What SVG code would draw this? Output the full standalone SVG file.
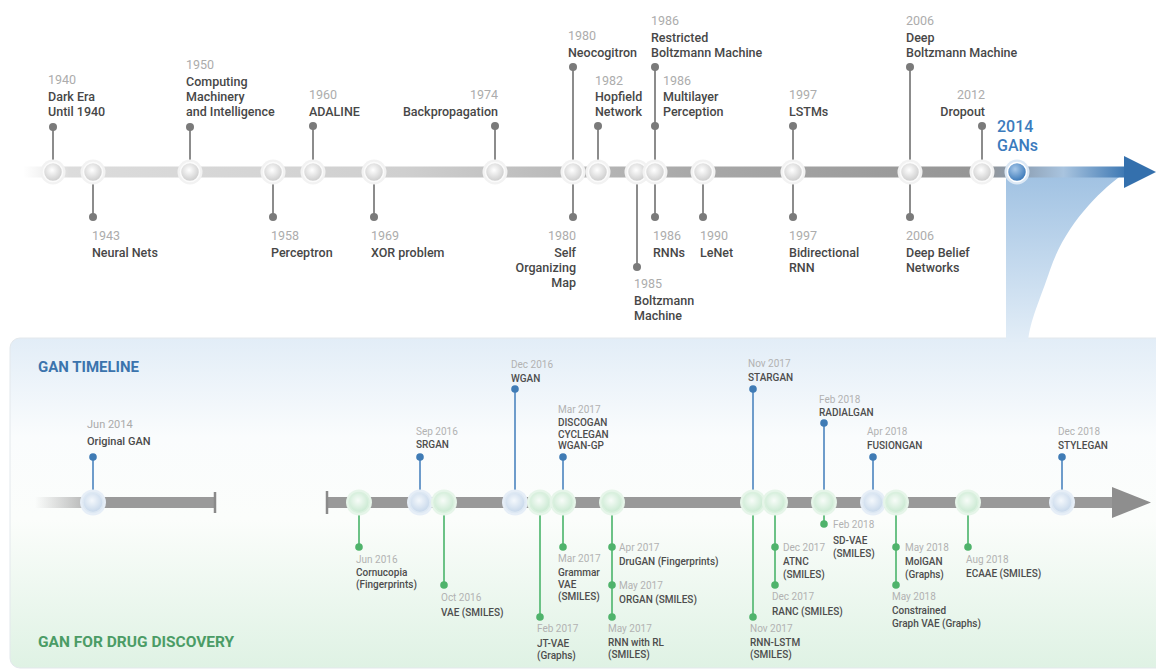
<svg xmlns="http://www.w3.org/2000/svg" width="1156" height="670" viewBox="0 0 1156 670">
<defs>
<style>
text{font-family:Roboto,"Liberation Sans",sans-serif}
.yr{font-size:12.5px;fill:#acacac}
.nm{font-size:12.5px;fill:#474747;font-weight:500}
.by{font-size:10px;fill:#b2b2b2}
.bn{font-size:10px;fill:#4d4d4d;font-weight:500}
.st{stroke:#8c8c8c;stroke-width:2}
.sb{stroke:#6e9ccb;stroke-width:2}
.sg{stroke:#6cc286;stroke-width:2}
.dt{fill:#7a7a7a}
.db{fill:#3f7bb5}
.dg{fill:#4fb36b}
.halo{fill:#f2f2f2}
.ng{fill:url(#gGray);stroke:#fbfbfb;stroke-width:1.5}
.hg{fill:#e6f5e9}
.ngr{fill:url(#gGreen);stroke:#d9f0de;stroke-width:1.5}
.hb{fill:#e6eef7}
.nbl{fill:url(#gBlue);stroke:#dde8f3;stroke-width:1.5}
.gan{font-size:16px;font-weight:500;fill:#3b7bbd}
</style>
<radialGradient id="gGray" cx="0.45" cy="0.4" r="0.6">
<stop offset="0" stop-color="#ffffff"/><stop offset="1" stop-color="#cbcbcb"/>
</radialGradient>
<radialGradient id="gGreen" cx="0.45" cy="0.4" r="0.6">
<stop offset="0" stop-color="#f7fcf8"/><stop offset="1" stop-color="#c9e9d1"/>
</radialGradient>
<radialGradient id="gBlue" cx="0.45" cy="0.4" r="0.6">
<stop offset="0" stop-color="#f4f8fc"/><stop offset="1" stop-color="#c6d7ea"/>
</radialGradient>
<radialGradient id="gGan" cx="0.4" cy="0.35" r="0.65">
<stop offset="0" stop-color="#a8c9ea"/><stop offset="1" stop-color="#3a78b8"/>
</radialGradient>
<linearGradient id="gTopBar" x1="0" y1="0" x2="1156" y2="0" gradientUnits="userSpaceOnUse">
<stop offset="0.02" stop-color="#e2e2e2" stop-opacity="0"/>
<stop offset="0.06" stop-color="#dcdcdc"/>
<stop offset="0.35" stop-color="#cfcfcf"/>
<stop offset="0.6" stop-color="#a8a8a8"/>
<stop offset="0.85" stop-color="#959595"/>
<stop offset="0.88" stop-color="#8a9cb0"/>
<stop offset="0.92" stop-color="#a9c4df"/>
<stop offset="0.975" stop-color="#3a76b2"/>
</linearGradient>
<linearGradient id="gFunnel" x1="0" y1="172" x2="0" y2="340" gradientUnits="userSpaceOnUse">
<stop offset="0" stop-color="#9fc1e2"/>
<stop offset="1" stop-color="#e2edf7"/>
</linearGradient>
<linearGradient id="gPanel" x1="0" y1="0" x2="0" y2="1">
<stop offset="0" stop-color="#e2edf7"/>
<stop offset="0.3" stop-color="#fafcfd"/>
<stop offset="0.55" stop-color="#fbfdfb"/>
<stop offset="1" stop-color="#dff2e4"/>
</linearGradient>
<linearGradient id="gLeftBar" x1="35" y1="0" x2="215" y2="0" gradientUnits="userSpaceOnUse">
<stop offset="0" stop-color="#9a9a9a" stop-opacity="0"/>
<stop offset="0.4" stop-color="#9a9a9a"/>
<stop offset="1" stop-color="#9a9a9a"/>
</linearGradient>
</defs>

<rect width="1156" height="670" fill="#ffffff"/>

<!-- bottom panel and funnel -->
<g id="panel">
<rect x="10" y="338" width="1160" height="330" rx="10" fill="url(#gPanel)" stroke="#e3e8ec" stroke-width="1"/>
<path d="M1006,172 L1126,172 C1100,190 1065,225 1050,270 C1040,300 1030,320 1028,342 L1006,342 Z" fill="url(#gFunnel)"/>
<text x="38" y="372" font-size="15" font-weight="700" fill="#3b74ad">GAN TIMELINE</text>
<text x="38" y="647" font-size="15.5" font-weight="700" fill="#4b9c66">GAN FOR DRUG DISCOVERY</text>
</g>

<!-- top bar -->
<g id="top-bar">
<rect x="20" y="166.5" width="1106" height="11" fill="url(#gTopBar)"/>
<polygon points="1124,156 1156,172 1124,188" fill="#3470ad"/>
</g>

<!-- bottom bars -->
<g id="bottom-bars">
<rect x="35" y="497" width="180" height="11" fill="url(#gLeftBar)"/>
<line x1="215" y1="492" x2="215" y2="513" stroke="#8a8a8a" stroke-width="2.5"/>
<rect x="327" y="497" width="790" height="11" fill="#999999"/>
<line x1="327" y1="491" x2="327" y2="514" stroke="#8a8a8a" stroke-width="2.5"/>
<polygon points="1112,487 1151,502.5 1112,518" fill="#8e8e8e"/>
</g>

<!-- connectors -->
<g id="connectors">
<line class="st" x1="53" y1="127" x2="53" y2="172"/>
<line class="st" x1="93" y1="172" x2="93" y2="217"/>
<line class="st" x1="190" y1="127" x2="190" y2="172"/>
<line class="st" x1="273" y1="172" x2="273" y2="217"/>
<line class="st" x1="313" y1="126" x2="313" y2="172"/>
<line class="st" x1="374" y1="172" x2="374" y2="217"/>
<line class="st" x1="495" y1="126" x2="495" y2="172"/>
<line class="st" x1="573" y1="67" x2="573" y2="217"/>
<line class="st" x1="598" y1="126" x2="598" y2="172"/>
<line class="st" x1="637" y1="172" x2="637" y2="267"/>
<line class="st" x1="655" y1="67" x2="655" y2="217"/>
<line class="st" x1="703" y1="172" x2="703" y2="217"/>
<line class="st" x1="793" y1="126" x2="793" y2="217"/>
<line class="st" x1="910" y1="67" x2="910" y2="217"/>
<line class="st" x1="982" y1="126" x2="982" y2="172"/>

<line class="sb" x1="93" y1="457" x2="93" y2="502"/>
<line class="sg" x1="359" y1="502" x2="359" y2="547"/>
<line class="sb" x1="420" y1="457" x2="420" y2="502"/>
<line class="sg" x1="444" y1="502" x2="444" y2="585"/>
<line class="sb" x1="515" y1="389" x2="515" y2="502"/>
<line class="sg" x1="540" y1="502" x2="540" y2="617"/>
<line class="sb" x1="563" y1="457" x2="563" y2="502"/>
<line class="sg" x1="563" y1="502" x2="563" y2="547"/>
<line class="sg" x1="612" y1="502" x2="612" y2="617"/>
<line class="sb" x1="753" y1="389" x2="753" y2="502"/>
<line class="sg" x1="753" y1="502" x2="753" y2="617"/>
<line class="sg" x1="775" y1="502" x2="775" y2="585"/>
<line class="sb" x1="824" y1="423" x2="824" y2="502"/>
<line class="sg" x1="824" y1="502" x2="824" y2="524"/>
<line class="sb" x1="873" y1="457" x2="873" y2="502"/>
<line class="sg" x1="896" y1="502" x2="896" y2="585"/>
<line class="sg" x1="968" y1="502" x2="968" y2="547"/>
<line class="sb" x1="1062" y1="457" x2="1062" y2="502"/>
</g>

<!-- top timeline nodes -->
<g id="n1940"><circle class="halo" cx="53" cy="172" r="12.5"/><circle class="ng" cx="53" cy="172" r="9.5"/><circle class="dt" cx="53" cy="127" r="4"/>
<text class="yr" x="48" y="84">1940</text><text class="nm" x="48" y="101">Dark Era</text><text class="nm" x="48" y="116">Until 1940</text></g>
<g id="n1943"><circle class="halo" cx="93" cy="172" r="12.5"/><circle class="ng" cx="93" cy="172" r="9.5"/><circle class="dt" cx="93" cy="217" r="4"/>
<text class="yr" x="92" y="240">1943</text><text class="nm" x="92" y="257">Neural Nets</text></g>
<g id="n1950"><circle class="halo" cx="190" cy="172" r="12.5"/><circle class="ng" cx="190" cy="172" r="9.5"/><circle class="dt" cx="190" cy="127" r="4"/>
<text class="yr" x="186" y="69">1950</text><text class="nm" x="186" y="86">Computing</text><text class="nm" x="186" y="101">Machinery</text><text class="nm" x="186" y="116">and Intelligence</text></g>
<g id="n1958"><circle class="halo" cx="273" cy="172" r="12.5"/><circle class="ng" cx="273" cy="172" r="9.5"/><circle class="dt" cx="273" cy="217" r="4"/>
<text class="yr" x="271" y="240">1958</text><text class="nm" x="271" y="257">Perceptron</text></g>
<g id="n1960"><circle class="halo" cx="313" cy="172" r="12.5"/><circle class="ng" cx="313" cy="172" r="9.5"/><circle class="dt" cx="313" cy="126" r="4"/>
<text class="yr" x="309" y="99">1960</text><text class="nm" x="309" y="116">ADALINE</text></g>
<g id="n1969"><circle class="halo" cx="374" cy="172" r="12.5"/><circle class="ng" cx="374" cy="172" r="9.5"/><circle class="dt" cx="374" cy="217" r="4"/>
<text class="yr" x="371" y="240">1969</text><text class="nm" x="371" y="257">XOR problem</text></g>
<g id="n1974"><circle class="halo" cx="495" cy="172" r="12.5"/><circle class="ng" cx="495" cy="172" r="9.5"/><circle class="dt" cx="495" cy="126" r="4"/>
<text class="yr" x="498" y="99" text-anchor="end">1974</text><text class="nm" x="498" y="116" text-anchor="end">Backpropagation</text></g>
<g id="n1980"><circle class="halo" cx="573" cy="172" r="12.5"/><circle class="ng" cx="573" cy="172" r="9.5"/>
<circle class="dt" cx="573" cy="67" r="4"/><circle class="dt" cx="573" cy="217" r="4"/>
<text class="yr" x="568" y="40">1980</text><text class="nm" x="568" y="57">Neocogitron</text>
<text class="yr" x="576" y="240" text-anchor="end">1980</text><text class="nm" x="576" y="257" text-anchor="end">Self</text><text class="nm" x="576" y="272" text-anchor="end">Organizing</text><text class="nm" x="576" y="287" text-anchor="end">Map</text></g>
<g id="n1982"><circle class="halo" cx="598" cy="172" r="12.5"/><circle class="ng" cx="598" cy="172" r="9.5"/><circle class="dt" cx="598" cy="126" r="4"/>
<text class="yr" x="595" y="85">1982</text><text class="nm" x="595" y="101">Hopfield</text><text class="nm" x="595" y="116">Network</text></g>
<g id="n1985"><circle class="halo" cx="637" cy="172" r="12.5"/><circle class="ng" cx="637" cy="172" r="9.5"/><circle class="dt" cx="637" cy="267" r="4"/>
<text class="yr" x="634" y="288">1985</text><text class="nm" x="634" y="305">Boltzmann</text><text class="nm" x="634" y="320">Machine</text></g>
<g id="n1986"><circle class="halo" cx="655" cy="172" r="12.5"/><circle class="ng" cx="655" cy="172" r="9.5"/>
<circle class="dt" cx="655" cy="67" r="4"/><circle class="dt" cx="655" cy="126" r="4"/><circle class="dt" cx="655" cy="217" r="4"/>
<text class="yr" x="651" y="25">1986</text><text class="nm" x="651" y="42">Restricted</text><text class="nm" x="651" y="57">Boltzmann Machine</text>
<text class="yr" x="663" y="85">1986</text><text class="nm" x="663" y="101">Multilayer</text><text class="nm" x="663" y="116">Perception</text>
<text class="yr" x="653" y="240">1986</text><text class="nm" x="653" y="257">RNNs</text></g>
<g id="n1990"><circle class="halo" cx="703" cy="172" r="12.5"/><circle class="ng" cx="703" cy="172" r="9.5"/><circle class="dt" cx="703" cy="217" r="4"/>
<text class="yr" x="700" y="240">1990</text><text class="nm" x="700" y="257">LeNet</text></g>
<g id="n1997"><circle class="halo" cx="793" cy="172" r="12.5"/><circle class="ng" cx="793" cy="172" r="9.5"/>
<circle class="dt" cx="793" cy="126" r="4"/><circle class="dt" cx="793" cy="217" r="4"/>
<text class="yr" x="789" y="99">1997</text><text class="nm" x="789" y="116">LSTMs</text>
<text class="yr" x="789" y="240">1997</text><text class="nm" x="789" y="257">Bidirectional</text><text class="nm" x="789" y="272">RNN</text></g>
<g id="n2006"><circle class="halo" cx="910" cy="172" r="12.5"/><circle class="ng" cx="910" cy="172" r="9.5"/>
<circle class="dt" cx="910" cy="67" r="4"/><circle class="dt" cx="910" cy="217" r="4"/>
<text class="yr" x="906" y="25">2006</text><text class="nm" x="906" y="42">Deep</text><text class="nm" x="906" y="57">Boltzmann Machine</text>
<text class="yr" x="906" y="240">2006</text><text class="nm" x="906" y="257">Deep Belief</text><text class="nm" x="906" y="272">Networks</text></g>
<g id="n2012"><circle class="halo" cx="982" cy="172" r="12.5"/><circle class="ng" cx="982" cy="172" r="9.5"/><circle class="dt" cx="982" cy="126" r="4"/>
<text class="yr" x="985" y="99" text-anchor="end">2012</text><text class="nm" x="985" y="116" text-anchor="end">Dropout</text></g>
<g id="n2014"><circle cx="1017" cy="172" r="12.5" fill="#dbe8f5"/><circle cx="1017" cy="172" r="9.5" fill="url(#gGan)" stroke="#ffffff" stroke-width="1.5"/>
<text class="gan" x="997" y="132">2014</text><text class="gan" x="997" y="151">GANs</text></g>

<!-- GAN timeline nodes -->
<g id="g-original"><circle class="hb" cx="93" cy="502.5" r="13"/><circle class="nbl" cx="93" cy="502.5" r="10"/><circle class="db" cx="93" cy="457" r="3.8"/>
<text x="87" y="428" font-size="11" fill="#aaaaaa">Jun 2014</text><text x="87" y="445" font-size="11" font-weight="500" fill="#4a4a4a">Original GAN</text></g>
<g id="g-cornucopia"><circle class="hg" cx="359" cy="502.5" r="13"/><circle class="ngr" cx="359" cy="502.5" r="10"/><circle class="dg" cx="359" cy="547" r="3.8"/>
<text class="by" x="356" y="563">Jun 2016</text><text class="bn" x="356" y="576">Cornucopia</text><text class="bn" x="356" y="588">(Fingerprints)</text></g>
<g id="g-srgan"><circle class="hb" cx="420" cy="502.5" r="13"/><circle class="nbl" cx="420" cy="502.5" r="10"/><circle class="db" cx="420" cy="457" r="3.8"/>
<text class="by" x="416" y="435">Sep 2016</text><text class="bn" x="416" y="448">SRGAN</text></g>
<g id="g-vae"><circle class="hg" cx="444" cy="502.5" r="13"/><circle class="ngr" cx="444" cy="502.5" r="10"/><circle class="dg" cx="444" cy="585" r="3.8"/>
<text class="by" x="441" y="601">Oct 2016</text><text class="bn" x="441" y="616">VAE (SMILES)</text></g>
<g id="g-wgan"><circle class="hb" cx="515" cy="502.5" r="13"/><circle class="nbl" cx="515" cy="502.5" r="10"/><circle class="db" cx="515" cy="389" r="3.8"/>
<text class="by" x="511" y="368">Dec 2016</text><text class="bn" x="511" y="382">WGAN</text></g>
<g id="g-jtvae"><circle class="hg" cx="540" cy="502.5" r="13"/><circle class="ngr" cx="540" cy="502.5" r="10"/><circle class="dg" cx="540" cy="617" r="3.8"/>
<text class="by" x="537" y="632">Feb 2017</text><text class="bn" x="537" y="647">JT-VAE</text><text class="bn" x="537" y="659">(Graphs)</text></g>
<g id="g-mar2017"><circle class="hg" cx="563" cy="502.5" r="13"/><circle class="ngr" cx="563" cy="502.5" r="10"/>
<circle class="db" cx="563" cy="457" r="3.8"/><circle class="dg" cx="563" cy="547" r="3.8"/>
<text class="by" x="558" y="413">Mar 2017</text><text class="bn" x="558" y="426">DISCOGAN</text><text class="bn" x="558" y="438">CYCLEGAN</text><text class="bn" x="558" y="449">WGAN-GP</text>
<text class="by" x="558" y="562">Mar 2017</text><text class="bn" x="558" y="576">Grammar</text><text class="bn" x="558" y="588">VAE</text><text class="bn" x="558" y="600">(SMILES)</text></g>
<g id="g-apr2017"><circle class="hg" cx="612" cy="502.5" r="13"/><circle class="ngr" cx="612" cy="502.5" r="10"/>
<circle class="dg" cx="612" cy="547" r="3.8"/><circle class="dg" cx="612" cy="585" r="3.8"/><circle class="dg" cx="612" cy="617" r="3.8"/>
<text class="by" x="619" y="551">Apr 2017</text><text class="bn" x="619" y="565">DruGAN (Fingerprints)</text>
<text class="by" x="619" y="589">May 2017</text><text class="bn" x="619" y="603">ORGAN (SMILES)</text>
<text class="by" x="608" y="632">May 2017</text><text class="bn" x="608" y="646">RNN with RL</text><text class="bn" x="608" y="658">(SMILES)</text></g>
<g id="g-nov2017"><circle class="hg" cx="753" cy="502.5" r="13"/><circle class="ngr" cx="753" cy="502.5" r="10"/>
<circle class="db" cx="753" cy="389" r="3.8"/><circle class="dg" cx="753" cy="617" r="3.8"/>
<text class="by" x="748" y="367">Nov 2017</text><text class="bn" x="748" y="381">STARGAN</text>
<text class="by" x="750" y="632">Nov 2017</text><text class="bn" x="750" y="646">RNN-LSTM</text><text class="bn" x="750" y="658">(SMILES)</text></g>
<g id="g-dec2017"><circle class="hg" cx="775" cy="502.5" r="13"/><circle class="ngr" cx="775" cy="502.5" r="10"/>
<circle class="dg" cx="775" cy="547" r="3.8"/><circle class="dg" cx="775" cy="585" r="3.8"/>
<text class="by" x="783" y="551">Dec 2017</text><text class="bn" x="783" y="565">ATNC</text><text class="bn" x="783" y="578">(SMILES)</text>
<text class="by" x="772" y="600">Dec 2017</text><text class="bn" x="772" y="615">RANC (SMILES)</text></g>
<g id="g-feb2018"><circle class="hg" cx="824" cy="502.5" r="13"/><circle class="ngr" cx="824" cy="502.5" r="10"/>
<circle class="db" cx="824" cy="423" r="3.8"/><circle class="dg" cx="824" cy="524" r="3.8"/>
<text class="by" x="819" y="403">Feb 2018</text><text class="bn" x="819" y="416">RADIALGAN</text>
<text class="by" x="833" y="528">Feb 2018</text><text class="bn" x="833" y="544">SD-VAE</text><text class="bn" x="833" y="557">(SMILES)</text></g>
<g id="g-fusiongan"><circle class="hb" cx="873" cy="502.5" r="13"/><circle class="nbl" cx="873" cy="502.5" r="10"/><circle class="db" cx="873" cy="457" r="3.8"/>
<text class="by" x="867" y="435">Apr 2018</text><text class="bn" x="867" y="449">FUSIONGAN</text></g>
<g id="g-may2018"><circle class="hg" cx="896" cy="502.5" r="13"/><circle class="ngr" cx="896" cy="502.5" r="10"/>
<circle class="dg" cx="896" cy="547" r="3.8"/><circle class="dg" cx="896" cy="585" r="3.8"/>
<text class="by" x="905" y="551">May 2018</text><text class="bn" x="905" y="565">MolGAN</text><text class="bn" x="905" y="578">(Graphs)</text>
<text class="by" x="892" y="600">May 2018</text><text class="bn" x="892" y="614">Constrained</text><text class="bn" x="892" y="627">Graph VAE (Graphs)</text></g>
<g id="g-ecaae"><circle class="hg" cx="968" cy="502.5" r="13"/><circle class="ngr" cx="968" cy="502.5" r="10"/><circle class="dg" cx="968" cy="547" r="3.8"/>
<text class="by" x="966" y="563">Aug 2018</text><text class="bn" x="966" y="577">ECAAE (SMILES)</text></g>
<g id="g-stylegan"><circle class="hb" cx="1062" cy="502.5" r="13"/><circle class="nbl" cx="1062" cy="502.5" r="10"/><circle class="db" cx="1062" cy="457" r="3.8"/>
<text class="by" x="1058" y="435">Dec 2018</text><text class="bn" x="1058" y="449">STYLEGAN</text></g>
</svg>
